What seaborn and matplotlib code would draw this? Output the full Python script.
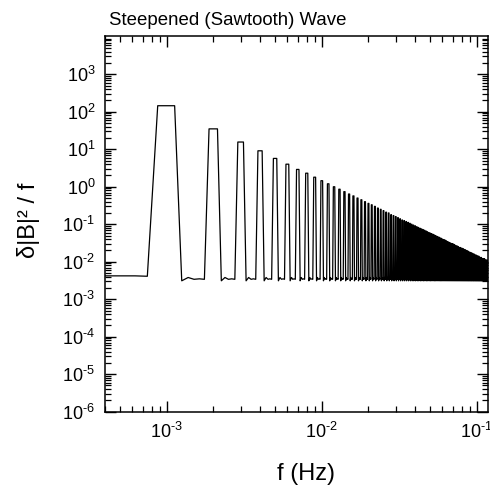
import matplotlib
matplotlib.use("Agg")
import matplotlib.pyplot as plt
import numpy as np
import pandas as pd
import seaborn as sns
from matplotlib.ticker import FixedLocator, LogLocator, NullFormatter

# ---------------- data ----------------
fundamental_hz = 1.0e-3          # spacing of the harmonics
bin_width_hz = 1.25e-4           # spectral resolution (8 bins per harmonic)

# peak level of each harmonic n = 1, 2, 3, ... (flat top, 3 bins wide)
peak_power = [
    145, 35, 15.6, 9.1, 5.7, 4.0, 2.9, 2.3, 1.8, 1.45,
    1.2, 1.0, 0.86, 0.74, 0.64, 0.57, 0.50, 0.45, 0.40, 0.36,
    0.33, 0.30, 0.27, 0.25, 0.23, 0.21, 0.20, 0.18, 0.17, 0.16,
    0.15, 0.14, 0.13, 0.125, 0.118, 0.112, 0.106, 0.100, 0.095, 0.091,
    0.086, 0.082, 0.078, 0.075, 0.072, 0.069, 0.066, 0.063, 0.060, 0.058,
    0.056, 0.054, 0.052, 0.050, 0.048, 0.046, 0.045, 0.043, 0.042, 0.040,
    0.039, 0.038, 0.037, 0.035, 0.034, 0.033, 0.032, 0.031, 0.030, 0.030,
    0.029, 0.028, 0.027, 0.026, 0.026, 0.025, 0.024, 0.024, 0.023, 0.023,
    0.022, 0.022, 0.021, 0.021, 0.020, 0.020, 0.019, 0.019, 0.018, 0.018,
    0.0175, 0.017, 0.017, 0.016, 0.016, 0.016, 0.015, 0.015, 0.015, 0.0145,
    0.014, 0.014, 0.014, 0.013, 0.013, 0.013, 0.013, 0.012, 0.012, 0.012,
    0.012, 0.012, 0.011, 0.011, 0.011, 0.011, 0.011, 0.010, 0.010, 0.010,
]
# floor below the first harmonic (bins 3..6)
low_freq_floor = [4.2e-3, 4.2e-3, 4.2e-3, 4.1e-3]
# floor in the 5 bins between two harmonics
gap_floor = [3.1e-3, 3.8e-3, 3.4e-3, 3.5e-3, 3.4e-3]

x_tick_values = [1e-3, 1e-2, 1e-1]
x_tick_labels = ["$10^{\u2010 3}$", "$10^{\u20102}$", "$10^{\u20101}$"]
y_tick_values = [1e-6, 1e-5, 1e-4, 1e-3, 1e-2, 1e-1, 1e0, 1e1, 1e2, 1e3]
y_tick_labels = ["$10^{\u20106}$", "$10^{\u20105}$", "$10^{\u20104}$", "$10^{\u20103}$",
                 "$10^{\u20102}$", "$10^{\u20101}$", "$10^{0}$", "$10^{1}$",
                 "$10^{2}$", "$10^{3}$"]
x_tick_labels[0] = "$10^{\u20103}$"

title_text = "Steepened (Sawtooth) Wave"
x_label = "f (Hz)"
y_label = "δ|B|² / f"

# ---------------- build the spectrum on its frequency grid ----------------
bins_per_harmonic = int(round(fundamental_hz / bin_width_hz))
bins, power = [], []
first_peak_bin = bins_per_harmonic - 1
for i, v in enumerate(low_freq_floor):
    bins.append(first_peak_bin - len(low_freq_floor) + i)
    power.append(v)
for n, p in enumerate(peak_power, start=1):
    centre = n * bins_per_harmonic
    for b in (centre - 1, centre, centre + 1):
        bins.append(b)
        power.append(p)
    for j, v in enumerate(gap_floor):
        bins.append(centre + 2 + j)
        power.append(v)
df = pd.DataFrame({"freq": np.array(bins) * bin_width_hz, "power": power})

# ---------------- style ----------------
sns.set_theme(style="ticks")
plt.rcParams["font.family"] = ["Liberation Sans", "DejaVu Sans"]
plt.rcParams["mathtext.fontset"] = "custom"
plt.rcParams["mathtext.rm"] = "Liberation Sans"
plt.rcParams["mathtext.it"] = "Liberation Sans:italic"
plt.rcParams["mathtext.bf"] = "Liberation Sans:bold"
plt.rcParams["mathtext.default"] = "regular"

fig = plt.figure(figsize=(4.9, 4.92), dpi=100)
W, H = 490, 492
ax = fig.add_axes([105 / W, (H - 411.7) / H, 383 / W, (411.7 - 36) / H])

sns.lineplot(data=df, x="freq", y="power", ax=ax, estimator=None, sort=False,
             color="black", linewidth=0.9)

ax.set_xscale("log")
ax.set_yscale("log")
ax.set_xlim(4.0e-4, 0.118)
ax.set_ylim(1e-6, 1.05e4)

ax.xaxis.set_major_locator(FixedLocator(x_tick_values))
ax.set_xticklabels(x_tick_labels)
ax.yaxis.set_major_locator(FixedLocator(y_tick_values))
ax.set_yticklabels(y_tick_labels)
ax.xaxis.set_minor_locator(LogLocator(base=10, subs=np.arange(2, 10), numticks=100))
ax.yaxis.set_minor_locator(LogLocator(base=10, subs=np.arange(2, 10), numticks=100))
ax.xaxis.set_minor_formatter(NullFormatter())
ax.yaxis.set_minor_formatter(NullFormatter())

ax.tick_params(which="both", direction="in", top=True, right=True,
               color="black", labelcolor="black")
ax.tick_params(which="major", length=8, width=1.0, labelsize=13, pad=7)
ax.tick_params(which="minor", length=4.5, width=0.9)
for s in ax.spines.values():
    s.set_linewidth(1.1)
    s.set_color("black")

ax.set_xlabel(x_label, fontsize=17, color="black")
ax.set_ylabel(y_label, fontsize=17, color="black")
ax.xaxis.set_label_coords((306 - 105) / 383, (411.7 - 463) / 375.7)
ax.yaxis.set_label_coords((40 - 105) / 383, (411.7 - 220) / 375.7)

fig.text(109 / W, 1 - 25 / H, title_text, fontsize=13.4, ha="left",
         va="baseline", color="black")

fig.savefig("out.png", dpi=100)
